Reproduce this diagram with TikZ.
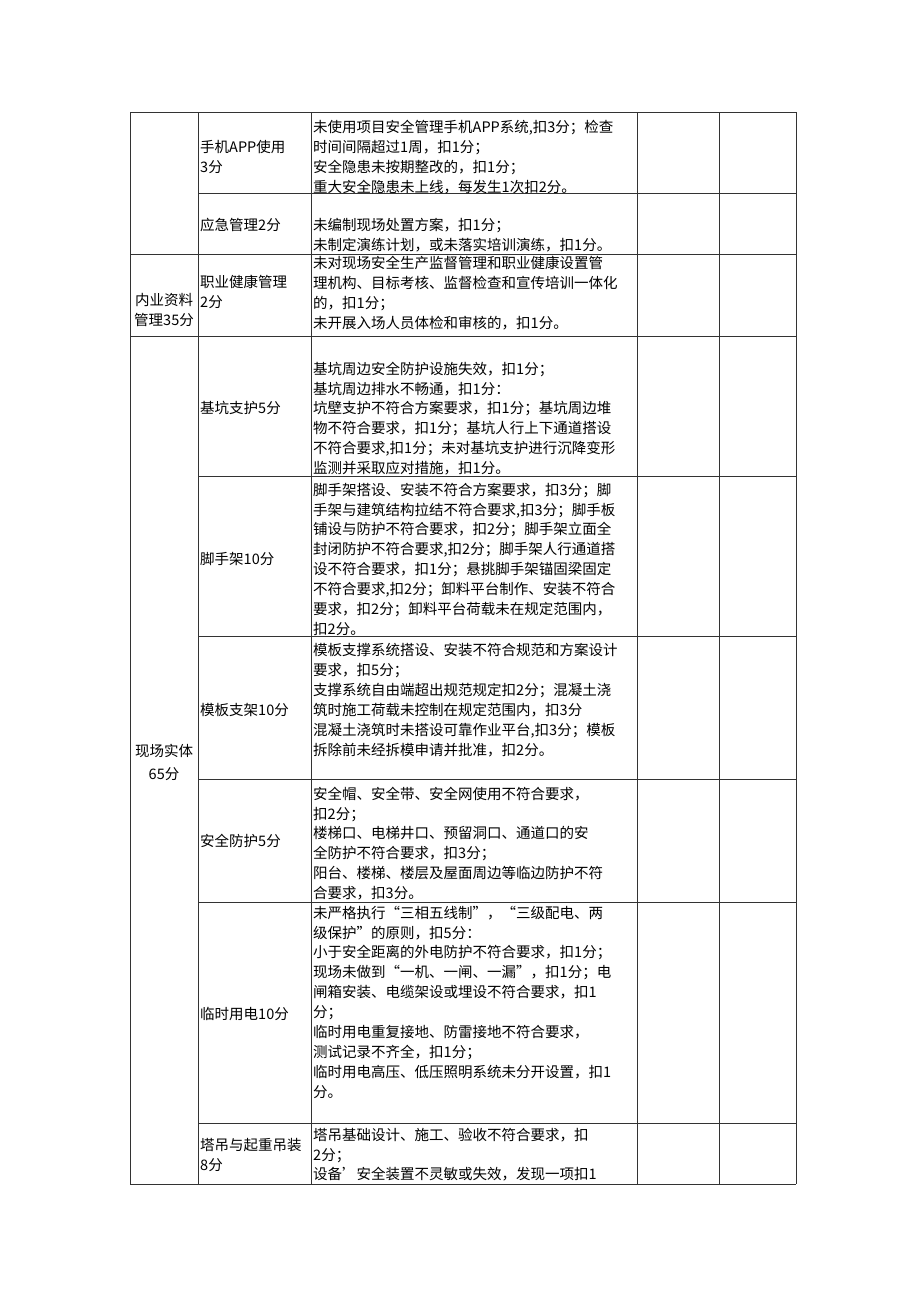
\documentclass[tikz,border=0pt]{standalone}
\usepackage{fontspec}
\newfontfamily\cjk{Noto Sans CJK SC}
\newcommand\cjksz{\cjk\fontsize{14.5}{19.9}\selectfont}
\tikzset{
  grid/.style={line width=1pt, draw=black!80},
  cellA/.style={anchor=north west, inner sep=0pt, text width=112pt, align=left, font=\cjksz},
  cellB/.style={anchor=north west, inner sep=0pt, text width=326pt, align=left, font=\cjksz},
  cellC/.style={anchor=north, inner sep=0pt, text width=68pt, align=center, font=\cjksz},
}
\begin{document}
\begin{tikzpicture}[x=1pt,y=-1pt]
\useasboundingbox (0,0) rectangle (920,1301);
% vertical lines
\foreach \x in {130,198,311,637,719,796} \draw[grid] (\x,112) -- (\x,1184);
% full-width horizontal lines
\foreach \y in {112,254,336,1184} \draw[grid] (130,\y) -- (796,\y);
% partial horizontal lines
\foreach \y in {193,476,636,779,902,1123} \draw[grid] (198,\y) -- (796,\y);

% row 1
\node[cellA] (r1b) at (200,138.4) {\strut 手机APP使用\\3分};
\node[cellB] (r1c) at (313,118.4) {\strut 未使用项目安全管理手机APP系统,扣3分；检查\\时间间隔超过1周，扣1分；\\安全隐患未按期整改的，扣1分；\\重大安全隐患未上线，每发生1次扣2分。};
% row 2
\node[cellA] (r2b) at (200,216.7) {\strut 应急管理2分};
\node[cellB] (r2c) at (313,216.7) {\strut 未编制现场处置方案，扣1分；\\未制定演练计划，或未落实培训演练，扣1分。};
% row 3
\node[cellC] (r3a) at (164,291.7) {\strut 内业资料\\管理35分};
\node[cellA] (r3b) at (200,273.4) {\strut 职业健康管理\\2分};
\node[cellB] (r3c) at (313,254.4) {\strut 未对现场安全生产监督管理和职业健康设置管\\理机构、目标考核、监督检查和宣传培训一体化\\的，扣1分；\\未开展入场人员体检和审核的，扣1分。};
% first column, lower block
\node[cellC] (r4a) at (164,742.4) {\strut 现场实体\\[3pt]65分};
% row 4
\node[cellA] (r4b) at (200,399) {\strut 基坑支护5分};
\node[cellB] (r4c) at (313,360) {\strut 基坑周边安全防护设施失效，扣1分；\\基坑周边排水不畅通，扣1分：\\坑壁支护不符合方案要求，扣1分；基坑周边堆\\物不符合要求，扣1分；基坑人行上下通道搭设\\不符合要求,扣1分；未对基坑支护进行沉降变形\\监测并采取应对措施，扣1分。};
% row 5
\node[cellA] (r5b) at (200,550) {\strut 脚手架10分};
\node[cellB] (r5c) at (313,481) {\strut 脚手架搭设、安装不符合方案要求，扣3分；脚\\手架与建筑结构拉结不符合要求,扣3分；脚手板\\铺设与防护不符合要求，扣2分；脚手架立面全\\封闭防护不符合要求,扣2分；脚手架人行通道搭\\设不符合要求，扣1分；悬挑脚手架锚固梁固定\\不符合要求,扣2分；卸料平台制作、安装不符合\\要求，扣2分；卸料平台荷载未在规定范围内，\\扣2分。};
% row 6
\node[cellA] (r6b) at (200,701.7) {\strut 模板支架10分};
\node[cellB] (r6c) at (313,641.7) {\strut 模板支撑系统搭设、安装不符合规范和方案设计\\要求，扣5分；\\支撑系统自由端超出规范规定扣2分；混凝土浇\\筑时施工荷载未控制在规定范围内，扣3分\\混凝土浇筑时未搭设可靠作业平台,扣3分；模板\\拆除前未经拆模申请并批准，扣2分。};
% row 7
\node[cellA] (r7b) at (200,832.4) {\strut 安全防护5分};
\node[cellB] (r7c) at (313,785) {\strut 安全帽、安全带、安全网使用不符合要求，\\扣2分；\\楼梯口、电梯井口、预留洞口、通道口的安\\全防护不符合要求，扣3分；\\阳台、楼梯、楼层及屋面周边等临边防护不符\\合要求，扣3分。};
% row 8
\node[cellA] (r8b) at (200,1005) {\strut 临时用电10分};
\node[cellB] (r8c) at (313,904) {\strut 未严格执行“三相五线制”，“三级配电、两\\级保护”的原则，扣5分：\\小于安全距离的外电防护不符合要求，扣1分；\\现场未做到“一机、一闸、一漏”，扣1分；电\\闸箱安装、电缆架设或埋设不符合要求，扣1\\分；\\临时用电重复接地、防雷接地不符合要求，\\测试记录不齐全，扣1分；\\临时用电高压、低压照明系统未分开设置，扣1\\分。};
% row 9
\node[cellA] (r9b) at (200,1136) {\strut 塔吊与起重吊装\\8分};
\node[cellB] (r9c) at (313,1126) {\strut 塔吊基础设计、施工、验收不符合要求，扣\\2分；\\设备’安全装置不灵敏或失效，发现一项扣1};
\end{tikzpicture}
\end{document}
